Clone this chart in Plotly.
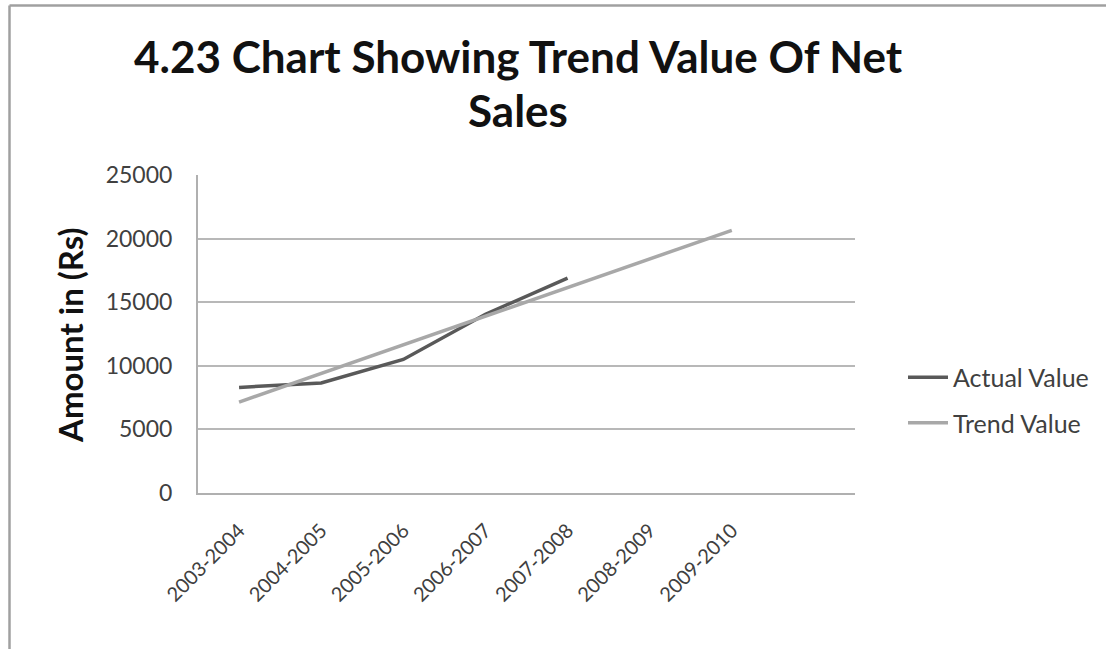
import plotly.graph_objects as go

# Financial years on the category axis
years = ["2003-2004", "2004-2005", "2005-2006", "2006-2007",
         "2007-2008", "2008-2009", "2009-2010"]

# Net sales (Rs): actual figures for the first five years
actual_years = years[:5]
actual_values = [8300, 8650, 10500, 14050, 16900]

# Fitted trend values for all seven years
trend_values = [7150, 9400, 11650, 13900, 16150, 18400, 20650]

y_ticks = [0, 5000, 10000, 15000, 20000, 25000]
y_tick_text = [str(v) for v in y_ticks]

FONT = "Lato"

fig = go.Figure()
fig.add_trace(go.Scatter(
    x=actual_years, y=actual_values, mode="lines", name="Actual Value",
    legendgroup="a", line=dict(color="#595959", width=3.5),
))
fig.add_trace(go.Scatter(
    x=years, y=trend_values, mode="lines", name="Trend Value",
    legendgroup="t", line=dict(color="#a8a8a8", width=3.5),
))

# plot area in pixels: x 198..855, y 175..493
L, R, T, B = 198, 855, 175, 493
W, H = 1106, 649
pw, ph = R - L, B - T


def px(xp):
    return (xp - L) / pw


def py(yp):
    return (B - yp) / ph


fig.update_layout(
    width=W, height=H,
    margin=dict(l=L, r=W - R, t=T, b=H - B, pad=0),
    paper_bgcolor="white", plot_bgcolor="white",
    font=dict(family=FONT, color="#3a3a3a"),
    showlegend=True,
    legend=dict(
        x=px(903), y=py(400), xanchor="left", yanchor="middle",
        font=dict(size=25, color="#404040", family=FONT),
        bgcolor="rgba(0,0,0,0)", itemwidth=40, tracegroupgap=10,
        traceorder="grouped",
    ),
    xaxis=dict(
        type="category", categoryorder="array", categoryarray=years,
        range=[-0.5, 7.5], tickangle=-45,
        tickfont=dict(size=20, color="#404040", family=FONT),
        showgrid=False, showline=True, linecolor="#b0b0b0", linewidth=2,
        ticks="", ticklabelstandoff=16,
    ),
    yaxis=dict(
        range=[0, 25000], tickvals=y_ticks, ticktext=y_tick_text,
        tickfont=dict(size=23, color="#404040", family=FONT),
        showgrid=True, gridcolor="#b8b8b8", gridwidth=2,
        showline=True, linecolor="#b0b0b0", linewidth=2,
        zeroline=False, ticks="", ticklabelstandoff=19,
    ),
    annotations=[
        dict(text="<b>4.23 Chart Showing Trend Value Of Net</b>",
             x=px(518), y=py(56), xref="paper", yref="paper",
             xanchor="center", yanchor="middle", showarrow=False,
             font=dict(size=44, color="#111111", family=FONT)),
        dict(text="<b>Sales</b>",
             x=px(518), y=py(110), xref="paper", yref="paper",
             xanchor="center", yanchor="middle", showarrow=False,
             font=dict(size=44, color="#111111", family=FONT)),
        dict(text="<b>Amount in (Rs)</b>", textangle=-90,
             x=px(70), y=py(335), xref="paper", yref="paper",
             xanchor="center", yanchor="middle", showarrow=False,
             font=dict(size=33, color="#111111", family=FONT)),
    ],
    shapes=[
        dict(type="line", xref="paper", yref="paper",
             x0=px(9.5), x1=px(9.5), y0=py(5.5), y1=py(H + 5),
             line=dict(color="#a0a0a0", width=2.5)),
        dict(type="line", xref="paper", yref="paper",
             x0=px(9.5), x1=px(W + 5), y0=py(5.5), y1=py(5.5),
             line=dict(color="#a0a0a0", width=2.5)),
    ],
)

fig.write_html("out.html")
